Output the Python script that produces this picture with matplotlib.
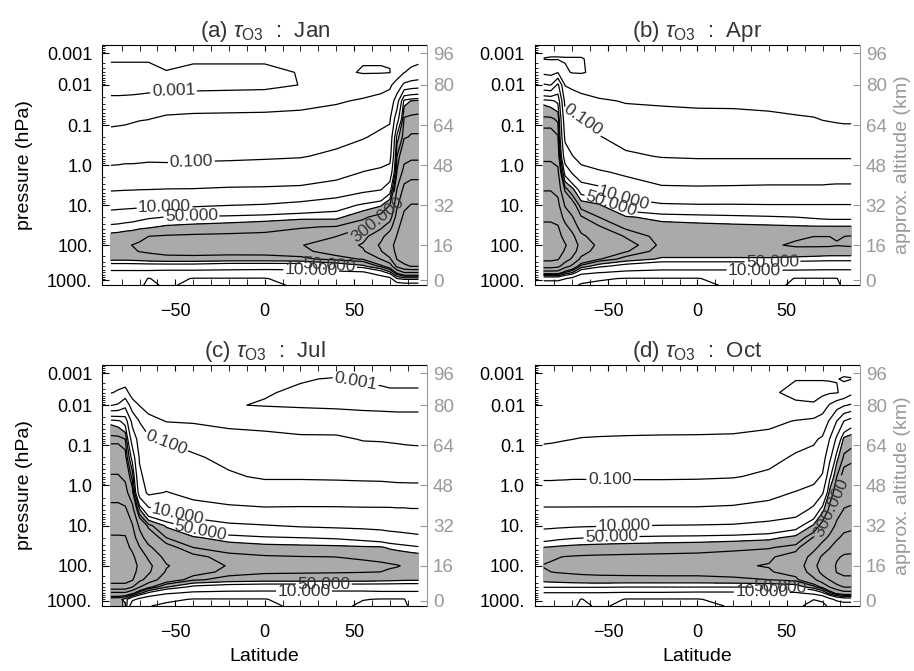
import numpy as np
import matplotlib.pyplot as plt

plt.rcParams['font.family'] = ['Liberation Sans', 'DejaVu Sans']
plt.rcParams['mathtext.fontset'] = 'custom'
plt.rcParams['mathtext.rm'] = 'Liberation Sans'
plt.rcParams['mathtext.it'] = 'Liberation Sans:italic'

# grid of the ozone lifetime field
LATS = [-86, -82, -78, -74, -70, -65, -55, -40, -20, 0, 20, 40, 55, 65, 70, 74, 78, 82, 86]
P_ROWS = [1400, 900, 600, 400, 250, 150, 100, 60, 35, 20, 10, 4, 1.5, 0.6, 0.2,
          0.07, 0.025, 0.01, 0.004, 0.0015, 0.00055]

# log10(tau_O3), one list per latitude, from the lowest level (1400 hPa) upwards
LOG_TAU_JAN = [
    [0.3, 0.5, 0.8, 1.46, 2.1, 2.2, 2.2, 2.1, 1.81, 1.35, 0.75, -0.1, -0.85, -1.2, -1.75, -2.2, -2.8, -3.4, -3.3, -2.9, -2.6],
    [0.3, 0.5, 0.8, 1.46, 2.1, 2.22, 2.23, 2.12, 1.83, 1.4, 0.77, -0.08, -0.83, -1.2, -1.72, -2.18, -2.8, -3.4, -3.3, -2.9, -2.6],
    [0.3, 0.5, 0.8, 1.46, 2.1, 2.25, 2.27, 2.15, 1.87, 1.46, 0.78, -0.06, -0.8, -1.18, -1.7, -2.15, -2.78, -3.4, -3.3, -2.9, -2.6],
    [0.3, 0.5, 0.8, 1.46, 2.12, 2.27, 2.305, 2.18, 1.89, 1.51, 0.8, -0.05, -0.8, -1.18, -1.65, -2.1, -2.75, -3.4, -3.3, -2.9, -2.6],
    [0.25, 0.45, 0.8, 1.46, 2.15, 2.31, 2.33, 2.25, 1.93, 1.58, 0.82, -0.03, -0.78, -1.17, -1.6, -2.05, -2.7, -3.4, -3.3, -2.9, -2.6],
    [-0.3, -0.05, 0.8, 1.46, 2.2, 2.33, 2.35, 2.3, 1.96, 1.65, 0.83, -0.02, -0.75, -1.15, -1.55, -2.02, -2.65, -3.35, -3.3, -2.9, -2.6],
    [0.2, 0.35, 0.75, 1.46, 2.25, 2.35, 2.37, 2.33, 2.05, 1.71, 0.85, 0.01, -0.7, -1.2, -1.6, -1.88, -2.45, -3.35, -3.05, -2.7, -2.5],
    [-0.3, -0.05, 0.75, 1.46, 2.25, 2.36, 2.38, 2.35, 2.1, 1.75, 0.88, 0.02, -0.65, -1.18, -1.55, -1.82, -2.42, -3.35, -3.25, -2.85, -2.55],
    [-0.3, -0.05, 0.75, 1.35, 2.22, 2.37, 2.39, 2.36, 2.15, 1.79, 0.98, 0.08, -0.62, -1.15, -1.5, -1.8, -2.4, -3.3, -3.25, -2.85, -2.55],
    [-0.3, -0.05, 0.7, 1.35, 2.22, 2.375, 2.4, 2.37, 2.2, 1.85, 1.05, 0.1, -0.6, -1.1, -1.48, -1.78, -2.38, -3.25, -3.25, -2.85, -2.55],
    [0.2, 0.4, 0.75, 1.35, 2.25, 2.41, 2.45, 2.41, 2.28, 1.92, 1.23, 0.15, -0.55, -1.05, -1.42, -1.72, -2.3, -2.98, -2.95, -2.7, -2.45],
    [0.2, 0.4, 0.8, 1.7, 2.375, 2.6, 2.75, 2.467, 2.32, 1.92, 1.46, 0.45, -0.4, -0.85, -1.25, -1.6, -2.1, -2.7, -2.85, -2.7, -2.4],
    [0.2, 0.45, 0.9, 1.92, 2.5, 2.95, 3.05, 2.85, 2.45, 2.25, 1.77, 0.8, 0.02, -0.6, -1.05, -1.4, -1.9, -2.5, -3.05, -2.95, -2.6],
    [0.25, 0.6, 1.46, 2.375, 3.02, 3.45, 3.55, 3.35, 2.9, 2.43, 1.96, 0.95, 0.2, -0.5, -0.85, -1.2, -1.75, -2.3, -3.05, -2.95, -2.6],
    [0.3, 0.8, 1.92, 2.7, 3.4, 3.8, 3.9, 3.7, 3.3, 2.75, 2.3, 1.46, 0.4, -0.35, -0.75, -1.1, -1.6, -2.15, -3.02, -2.95, -2.6],
    [0.5, 1.7, 2.6, 3.6, 4.02, 4.1, 4.1, 4.02, 3.9, 3.7, 3.4, 3.02, 2.5, 2.3, 1.85, 0.6, -0.5, -1.6, -2.5, -2.95, -2.7],
    [0.6, 1.85, 3.02, 3.9, 4.2, 4.3, 4.3, 4.25, 4.2, 4.1, 3.9, 3.6, 3.2, 2.8, 2.45, 2.34, 1.85, -0.8, -2.02, -2.6, -2.5],
    [0.6, 1.85, 3.02, 4.02, 4.3, 4.4, 4.4, 4.35, 4.3, 4.2, 4.02, 3.7, 3.3, 2.9, 2.5, 2.375, 2.02, -0.6, -1.8, -2.3, -2.4],
    [0.6, 1.85, 3.02, 4.02, 4.3, 4.4, 4.4, 4.35, 4.3, 4.2, 4.02, 3.7, 3.3, 2.9, 2.5, 2.375, 2.1, -0.5, -1.7, -2.2, -2.3],
]

LOG_TAU_APR = [
    [0.4, 1.3, 2.8, 3.7, 4.1, 4.3, 4.35, 4.25, 4.1, 3.9, 3.7, 3.45, 3.2, 2.9, 2.6, 2.35, 1.9, -0.9, -2.2, -3.02, -2.7],
    [0.4, 1.3, 2.8, 3.7, 4.1, 4.3, 4.35, 4.25, 4.1, 3.9, 3.7, 3.45, 3.2, 2.9, 2.6, 2.35, 1.8, -1.02, -2.3, -3.05, -2.7],
    [0.4, 1.3, 2.8, 3.6, 4.04, 4.2, 4.25, 4.15, 4.04, 3.8, 3.6, 3.35, 3.1, 2.8, 2.5, 2.25, 1.6, 0.2, -2.04, -3.05, -2.7],
    [0.3, 1.04, 2.3, 3.2, 3.7, 3.95, 4.04, 3.85, 3.6, 3.3, 2.95, 2.4, 1.5, 0.5, -0.2, -0.7, -1.3, -2.04, -2.9, -3.05, -2.6],
    [0.2, 0.8, 2.04, 2.9, 3.4, 3.7, 3.8, 3.6, 3.3, 3.04, 2.65, 2.1, 0.9, 0.04, -0.6, -0.8, -1.5, -2.2, -3.04, -3.05, -2.6],
    [-0.1, 0.3, 1.3, 2.2, 2.9, 3.2, 3.3, 3.1, 2.8, 2.5, 2.2, 1.45, 0.35, -0.4, -0.75, -0.98, -1.6, -2.45, -3.05, -3.05, -2.6],
    [-0.2, 0.1, 1.04, 1.8, 2.5, 2.8, 2.9, 2.75, 2.5, 2.3, 2.05, 1.2, 0.1, -0.6, -0.95, -1.4, -1.9, -2.5, -2.85, -2.75, -2.5],
    [-0.3, -0.05, 0.85, 1.5, 2.2, 2.5, 2.6, 2.45, 2.25, 2.04, 1.35, 0.45, -0.15, -0.85, -1.35, -1.7, -2.05, -2.65, -2.85, -2.7, -2.5],
    [-0.3, -0.05, 0.8, 1.3, 1.95, 2.2, 2.25, 2.22, 2.12, 1.9, 1.1, 0.12, -0.42, -1.05, -1.45, -1.75, -2.1, -2.75, -2.85, -2.7, -2.5],
    [-0.3, -0.05, 0.8, 1.3, 1.95, 2.2, 2.24, 2.21, 2.1, 1.85, 1.05, 0.1, -0.45, -1.1, -1.5, -1.78, -2.15, -2.8, -2.85, -2.7, -2.5],
    [0.2, 0.4, 0.8, 1.3, 1.95, 2.2, 2.25, 2.22, 2.08, 1.8, 1.05, 0.12, -0.45, -1.1, -1.5, -1.8, -2.15, -2.8, -2.85, -2.7, -2.5],
    [0.5, 0.5, 0.85, 1.3, 1.95, 2.22, 2.28, 2.25, 2.06, 1.75, 1.03, 0.15, -0.45, -1.1, -1.5, -1.85, -2.2, -2.85, -2.85, -2.7, -2.5],
    [-0.3, -0.05, 0.85, 1.25, 1.9, 2.25, 2.32, 2.28, 2.04, 1.7, 1.03, 0.15, -0.45, -1.1, -1.55, -1.9, -2.35, -2.9, -2.85, -2.7, -2.5],
    [-0.3, -0.05, 0.85, 1.22, 1.88, 2.22, 2.33, 2.3, 2.03, 1.65, 1.03, 0.15, -0.45, -1.1, -1.55, -1.95, -2.45, -2.9, -2.85, -2.7, -2.5],
    [-0.3, -0.05, 0.85, 1.2, 1.86, 2.21, 2.33, 2.3, 2.03, 1.62, 1.03, 0.15, -0.45, -1.1, -1.55, -2.04, -2.5, -2.9, -2.85, -2.7, -2.5],
    [-0.3, -0.05, 0.85, 1.2, 1.85, 2.2, 2.33, 2.3, 2.03, 1.6, 1.03, 0.18, -0.45, -1.1, -1.55, -2.08, -2.6, -2.9, -2.85, -2.7, -2.5],
    [-0.3, -0.05, 0.85, 1.2, 1.85, 2.2, 2.31, 2.29, 2.03, 1.6, 1.03, 0.2, -0.45, -1.1, -1.58, -2.12, -2.6, -2.9, -2.85, -2.7, -2.5],
    [0.3, 0.6, 0.85, 1.2, 1.85, 2.2, 2.32, 2.3, 2.03, 1.6, 1.03, 0.2, -0.45, -1.1, -1.6, -2.15, -2.6, -2.9, -2.85, -2.7, -2.5],
    [0.3, 0.6, 0.85, 1.2, 1.85, 2.2, 2.33, 2.31, 2.03, 1.6, 1.03, 0.2, -0.45, -1.1, -1.6, -2.15, -2.6, -2.9, -2.85, -2.7, -2.5],
]

LOG_TAU_JUL = [
    [2.2, 2.1, 2.9, 3.8, 4.2, 4.35, 4.4, 4.3, 4.15, 4.04, 3.85, 3.6, 3.3, 3.04, 2.7, 2.4, 1.9, -1.04, -2.05, -2.4, -2.4],
    [2.2, 2.1, 2.9, 3.8, 4.2, 4.35, 4.4, 4.3, 4.15, 4.04, 3.85, 3.6, 3.3, 3.04, 2.7, 2.4, 1.8, -0.9, -1.9, -2.4, -2.4],
    [2.1, 1.9, 2.9, 3.8, 4.2, 4.35, 4.4, 4.3, 4.15, 4.04, 3.8, 3.55, 3.2, 2.9, 2.6, 2.3, 1.5, -0.3, -1.6, -2.6, -2.5],
    [0.3, 1.2, 2.6, 3.5, 4.04, 4.15, 4.2, 4.1, 3.9, 3.7, 3.5, 3.2, 2.6, 2.2, 1.5, 0.6, -0.3, -1.5, -2.5, -2.85, -2.6],
    [0.1, 0.8, 2.1, 3.04, 3.6, 3.85, 3.9, 3.75, 3.5, 3.2, 2.9, 2.04, 0.6, 0.2, -0.1, -0.4, -1.04, -2.04, -2.9, -2.9, -2.6],
    [0.04, 0.5, 1.6, 2.6, 3.3, 3.55, 3.6, 3.4, 3.1, 2.75, 2.4, 1.2, -0.2, -0.4, -0.6, -0.85, -1.6, -2.5, -2.95, -2.9, -2.6],
    [-0.2, 0.2, 1.1, 2.04, 2.7, 2.95, 3.04, 2.85, 2.6, 2.3, 1.95, 0.9, 0.04, -0.5, -0.8, -1.05, -2.04, -2.8, -2.95, -2.9, -2.6],
    [-0.3, -0.05, 0.85, 1.6, 2.35, 2.6, 2.7, 2.55, 2.3, 2.05, 1.5, 0.4, -0.3, -0.6, -0.9, -1.3, -2.1, -2.9, -2.9, -2.85, -2.6],
    [-0.3, -0.05, 0.8, 1.45, 2.2, 2.4, 2.45, 2.38, 2.18, 1.85, 1.15, 0.2, -0.5, -0.9, -1.2, -1.65, -2.25, -2.95, -2.9, -2.85, -2.6],
    [-0.3, -0.05, 0.8, 1.4, 2.15, 2.34, 2.38, 2.33, 2.12, 1.75, 1.04, 0.1, -0.55, -1.1, -1.45, -1.8, -2.25, -3.05, -2.95, -2.85, -2.6],
    [0.3, 0.45, 0.8, 1.4, 2.15, 2.33, 2.36, 2.31, 2.1, 1.7, 0.92, 0.12, -0.55, -1.1, -1.48, -1.85, -2.45, -3.1, -3.1, -2.95, -2.6],
    [0.3, 0.45, 0.8, 1.4, 2.15, 2.32, 2.35, 2.3, 2.08, 1.65, 0.85, 0.12, -0.58, -1.12, -1.5, -1.85, -2.5, -3.15, -3.15, -3.05, -2.6],
    [-0.2, 0.04, 0.8, 1.4, 2.15, 2.31, 2.34, 2.28, 2.05, 1.55, 0.8, 0.1, -0.6, -1.15, -1.55, -2.05, -2.7, -3.15, -3.1, -2.95, -2.6],
    [-0.3, -0.05, 0.85, 1.4, 2.12, 2.3, 2.33, 2.26, 2.04, 1.45, 0.75, 0.1, -0.62, -1.16, -1.58, -2.07, -2.75, -3.15, -3.05, -2.95, -2.6],
    [-0.3, -0.05, 0.85, 1.4, 2.1, 2.28, 2.32, 2.24, 1.95, 1.35, 0.7, 0.1, -0.65, -1.18, -1.6, -2.1, -2.78, -3.15, -3.05, -2.9, -2.6],
    [-0.3, -0.05, 0.85, 1.4, 2.08, 2.27, 2.31, 2.22, 1.9, 1.3, 0.68, 0.08, -0.67, -1.2, -1.63, -2.12, -2.8, -3.15, -3.05, -2.9, -2.6],
    [-0.3, -0.05, 0.85, 1.4, 2.06, 2.25, 2.29, 2.2, 1.85, 1.25, 0.65, 0.08, -0.68, -1.2, -1.65, -2.15, -2.8, -3.15, -3.05, -2.9, -2.6],
    [0.3, 0.5, 0.85, 1.4, 2.05, 2.22, 2.25, 2.17, 1.8, 1.2, 0.62, 0.05, -0.7, -1.2, -1.65, -2.18, -2.8, -3.15, -3.05, -2.9, -2.6],
    [0.3, 0.5, 0.85, 1.4, 2.05, 2.2, 2.22, 2.15, 1.75, 1.15, 0.6, 0.05, -0.7, -1.2, -1.65, -2.2, -2.8, -3.15, -3.05, -2.9, -2.6],
]

LOG_TAU_OCT = [
    [0.3, 0.6, 0.95, 1.75, 2.1, 2.28, 2.31, 2.25, 2.01, 1.5, 0.8, 0.1, -0.55, -1.15, -1.6, -2.15, -2.5, -2.75, -2.8, -2.7, -2.5],
    [0.3, 0.6, 0.95, 1.75, 2.12, 2.3, 2.33, 2.27, 2.03, 1.55, 0.82, 0.1, -0.55, -1.15, -1.6, -2.12, -2.5, -2.75, -2.8, -2.7, -2.5],
    [0.3, 0.6, 0.95, 1.75, 2.14, 2.32, 2.35, 2.29, 2.06, 1.6, 0.85, 0.1, -0.55, -1.13, -1.58, -2.08, -2.5, -2.75, -2.8, -2.7, -2.5],
    [0.3, 0.6, 0.95, 1.75, 2.16, 2.33, 2.36, 2.31, 2.08, 1.63, 0.87, 0.1, -0.55, -1.12, -1.56, -2.04, -2.48, -2.75, -2.8, -2.7, -2.5],
    [0.3, 0.6, 0.95, 1.75, 2.18, 2.34, 2.37, 2.32, 2.1, 1.66, 0.9, 0.1, -0.54, -1.1, -1.54, -2.01, -2.47, -2.75, -2.8, -2.7, -2.5],
    [-0.3, -0.05, 0.95, 1.75, 2.2, 2.35, 2.38, 2.33, 2.12, 1.68, 0.92, 0.1, -0.53, -1.1, -1.52, -1.96, -2.45, -2.75, -2.8, -2.7, -2.5],
    [0.2, 0.45, 0.95, 1.75, 2.22, 2.36, 2.39, 2.34, 2.14, 1.72, 0.95, 0.1, -0.52, -1.12, -1.5, -1.93, -2.43, -2.75, -2.8, -2.7, -2.5],
    [-0.3, -0.05, 0.9, 1.72, 2.22, 2.37, 2.4, 2.35, 2.16, 1.76, 0.98, 0.1, -0.5, -1.12, -1.48, -1.9, -2.42, -2.75, -2.8, -2.7, -2.5],
    [-0.3, -0.05, 0.9, 1.72, 2.22, 2.38, 2.41, 2.36, 2.18, 1.8, 1.02, 0.1, -0.5, -1.12, -1.46, -1.88, -2.4, -2.75, -2.8, -2.7, -2.5],
    [-0.3, -0.05, 0.85, 1.72, 2.22, 2.38, 2.42, 2.37, 2.2, 1.82, 1.04, 0.1, -0.5, -1.1, -1.45, -1.87, -2.4, -2.75, -2.8, -2.7, -2.5],
    [0.1, 0.3, 0.85, 1.72, 2.25, 2.4, 2.45, 2.4, 2.24, 1.86, 1.08, 0.15, -0.45, -1.05, -1.42, -1.84, -2.38, -2.75, -2.82, -2.7, -2.5],
    [0.2, 0.4, 0.85, 1.74, 2.3, 2.45, 2.49, 2.44, 2.28, 1.92, 1.25, 0.35, -0.3, -0.85, -1.25, -1.7, -2.25, -2.8, -2.9, -2.75, -2.5],
    [0.2, 0.45, 0.9, 1.8, 2.4, 2.6, 2.7, 2.6, 2.38, 2.1, 1.5, 0.55, 0.05, -0.6, -0.9, -1.3, -1.95, -2.9, -3.15, -2.98, -2.7],
    [-0.3, 0.02, 1.2, 2.2, 2.9, 3.25, 3.35, 3.2, 2.85, 2.5, 2.05, 1.2, 0.3, -0.3, -0.8, -1.1, -1.8, -2.95, -3.15, -2.98, -2.7],
    [-0.3, 0.2, 1.6, 2.6, 3.3, 3.6, 3.7, 3.55, 3.2, 2.85, 2.45, 1.9, 0.9, 0.1, -0.5, -0.9, -1.5, -2.6, -3.15, -2.98, -2.7],
    [0.2, 0.8, 2.2, 3.02, 3.5, 3.75, 3.8, 3.7, 3.45, 3.1, 2.75, 2.4, 2.1, 1.6, 0.8, 0.02, -0.9, -1.9, -3.1, -2.98, -2.7],
    [0.4, 1.2, 2.6, 3.3, 3.8, 4.02, 4.05, 3.95, 3.7, 3.4, 3.1, 2.8, 2.5, 2.3, 1.9, 1.2, 0.02, -1.4, -3.05, -2.98, -2.7],
    [0.5, 1.4, 2.8, 3.5, 3.9, 4.1, 4.15, 4.05, 3.85, 3.6, 3.3, 3.02, 2.8, 2.6, 2.35, 2.1, 1.02, -1.1, -2.8, -3.05, -2.75],
    [0.5, 1.4, 2.8, 3.5, 3.9, 4.1, 4.15, 4.05, 3.9, 3.65, 3.35, 3.05, 2.85, 2.65, 2.4, 2.2, 1.4, -0.9, -2.25, -3.02, -2.8],
]

MONTHS = ['Jan', 'Apr', 'Jul', 'Oct']
TAGS = ['(a)', '(b)', '(c)', '(d)']
FIELDS = [LOG_TAU_JAN, LOG_TAU_APR, LOG_TAU_JUL, LOG_TAU_OCT]

LEVELS = [0.001, 0.01, 0.1, 1, 10, 50, 100, 200, 300, 1000, 3000, 10000]
SHADE_FROM = 100

# contour labels: (level, latitude, plot height)
LABELS = [
    [(0.001, -51, 4.82), (0.1, -41, 3.0), (10, -56, 1.83), (50, -41, 1.55),
     (300, 63, 1.54), (50, 36, 0.36), (10, 26, 0.22)],
    [(0.1, -64, 4.0), (10, -41, 2.08), (50, -49, 1.83), (50, 42, 0.46), (10, 32, 0.24)],
    [(0.001, 49, 5.2), (0.1, -55, 3.96), (10, -48, 2.25), (50, -36, 1.71),
     (50, 33, 0.43), (10, 22, 0.24)],
    [(0.1, -49, 3.08), (10, -41, 1.92), (50, -48, 1.54), (300, 74, 2.33),
     (50, 46, 0.36), (10, 36, 0.2)],
]

P_TICKS = [1000, 100, 10, 1, 0.1, 0.01, 0.001]
P_TICKLABELS = ['1000.', '100.', '10.', '1.0', '0.1', '0.01', '0.001']
Z_TICKLABELS = ['0', '16', '32', '48', '64', '80', '96']
# vertical plot position of the pressure decades (the model's level spacing)
Y_TICKS = [0.0, 0.875, 1.875, 2.875, 3.875, 4.875, 5.667]


def ypos(p):
    lp = -np.log10(np.asarray(p, dtype=float))
    xs = -np.log10(P_TICKS)
    xs = np.concatenate([[xs[0] - 1], xs, [xs[-1] + 1]])
    ys = np.concatenate([[2 * Y_TICKS[0] - Y_TICKS[1]], Y_TICKS,
                         [2 * Y_TICKS[-1] - Y_TICKS[-2]]])
    return np.interp(lp, xs, ys)


minor_p = [m * 10.0 ** k for k in range(-4, 3) for m in range(2, 10)]
minor_y = [y for y in ypos(minor_p) if -0.12 < y < 5.87]

X, Y = np.meshgrid(LATS, ypos(P_ROWS))

fig = plt.figure(figsize=(9.14, 6.71), dpi=100)
boxes = [[0.1116, 0.575, 0.356, 0.358], [0.585, 0.575, 0.356, 0.358],
         [0.1116, 0.097, 0.356, 0.359], [0.585, 0.097, 0.356, 0.359]]
gray = '#999999'

for i in range(4):
    ax = fig.add_axes(boxes[i])
    Z = np.array(FIELDS[i]).T
    ax.contourf(X, Y, Z, levels=[np.log10(SHADE_FROM), 10], colors=['#aaaaaa'])
    # one contour set per level, so each can take its own inline labels
    for lev in LEVELS:
        cs = ax.contour(X, Y, Z, levels=[np.log10(lev)], colors='black',
                        linewidths=0.9, linestyles='solid')
        spots = [(lat, yy) for lv, lat, yy in LABELS[i] if lv == lev]
        if spots and len(cs.allsegs[0]) > 0:
            ax.clabel(cs, manual=spots, inline=True, inline_spacing=3,
                      fmt=lambda v: f'{10 ** v:.3f}', fontsize=12.5, colors='#333333')

    ax.set_xlim(-91, 91)
    ax.set_ylim(-0.125, 5.875)
    ax.set_xticks([-50, 0, 50])
    ax.set_xticks(np.arange(-80, 90, 10), minor=True)
    ax.tick_params(axis='x', which='both', direction='in', top=True, bottom=True,
                   length=4.5, labelsize=13, pad=13)
    ax.set_yticks(Y_TICKS, P_TICKLABELS)
    ax.set_yticks(minor_y, minor=True)
    ax.tick_params(axis='y', which='major', direction='in', length=5, labelsize=13, pad=7)
    ax.tick_params(axis='y', which='minor', direction='in', length=2.5)
    ax.spines['right'].set_visible(False)

    ax2 = ax.twinx()
    ax2.set_ylim(-0.125, 5.875)
    ax2.set_yticks(Y_TICKS, Z_TICKLABELS)
    ax2.tick_params(axis='y', direction='in', length=5, colors=gray, labelsize=13.5, pad=4)
    for s in ['left', 'top', 'bottom']:
        ax2.spines[s].set_visible(False)
    ax2.spines['right'].set_color(gray)

    ax.set_title(TAGS[i] + r' $\tau_{\rm O3}$  :  ' + MONTHS[i], fontsize=16,
                 color='#333333', pad=6)
    if i % 2 == 0:
        ax.set_ylabel('pressure (hPa)', fontsize=14, labelpad=10)
    else:
        ax2.set_ylabel('approx. altitude (km)', fontsize=14, color=gray, labelpad=5)
    if i >= 2:
        ax.set_xlabel('Latitude', fontsize=14, labelpad=5)

fig.savefig('out.png', dpi=100)
